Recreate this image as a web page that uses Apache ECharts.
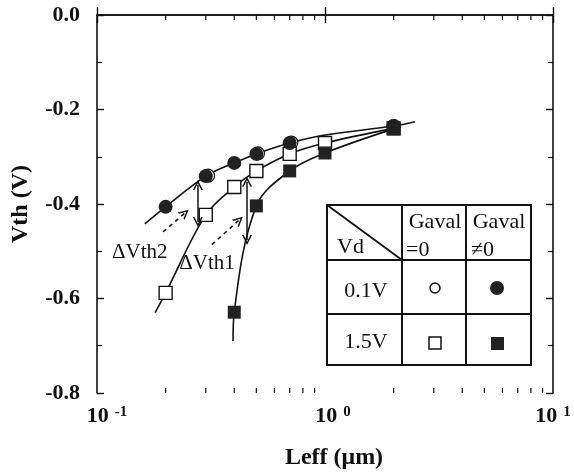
<!DOCTYPE html>
<html>
<head>
<meta charset="utf-8">
<script src="https://cdn.jsdelivr.net/npm/echarts@6/dist/echarts.min.js"></script>
<style>html,body{margin:0;padding:0;background:#fff}#c{width:574px;height:475px}</style>
</head>
<body>
<div id="c"></div>
<script>
// ---- data ----
const xTicksMinor = [0.2,0.3,0.4,0.5,0.6,0.7,0.8,0.9,2,3,4,5,6,7,8,9];

const filledCircleX = [0.2, 0.3, 0.4, 0.5, 0.7, 2.0];
const filledCircleY = [-0.406, -0.341, -0.313, -0.294, -0.271, -0.235];

const openCircleX = [0.307, 0.508, 0.712, 2.0];
const openCircleY = [-0.340, -0.293, -0.270, -0.235];

const openSquareX = [0.2, 0.3, 0.4, 0.5, 0.7, 1.0, 2.0];
const openSquareY = [-0.588, -0.423, -0.364, -0.330, -0.294, -0.271, -0.240];

const filledSquareX = [0.4, 0.5, 0.7, 1.0, 2.0];
const filledSquareY = [-0.629, -0.404, -0.330, -0.292, -0.241];

// fitted curves
const curve1X = [0.162, 0.2, 0.3, 0.4, 0.5, 0.7, 1.0, 2.0, 2.48];
const curve1Y = [-0.442, -0.406, -0.341, -0.313, -0.294, -0.271, -0.254, -0.235, -0.226];
const curve2X = [0.18, 0.2, 0.3, 0.4, 0.5, 0.7, 1.0, 2.0];
const curve2Y = [-0.63, -0.588, -0.423, -0.364, -0.330, -0.294, -0.271, -0.240];
const curve3X = [0.395, 0.4, 0.5, 0.7, 1.0, 2.0];
const curve3Y = [-0.69, -0.629, -0.404, -0.330, -0.292, -0.241];

// annotations (data units)
const dVth2Arrow = [[0.277, -0.36], [0.277, -0.438]];
const dVth1Arrow = [[0.455, -0.353], [0.455, -0.476]];
const dVth2Dash = [[0.195, -0.459], [0.243, -0.419]];
const dVth1Dash = [[0.319, -0.486], [0.420, -0.434]];
const annoLabels = [['ΔVth2', 0.154, -0.502], ['ΔVth1', 0.304, -0.525]];

const yTickFormat = v => v.toFixed(1);

// ---- chart ----
const zip = (xs, ys) => xs.map((x, i) => [x, ys[i]]);
const INK = '#111';
const SERIF = "'Liberation Serif','Times New Roman',serif";
const CHEVRON = 'path://M5,0 L10,12 L8.4,12 L5,3.8 L1.6,12 L0,12 Z';

const chart = echarts.init(document.getElementById('c'), null, {renderer: 'canvas'});

const axisLine = {show: true, lineStyle: {color: INK, width: 1.6}};
const xTick = {show: true, inside: true, length: 8, lineStyle: {color: INK, width: 1.4}};

const base = {fontSize: 22, fontWeight: 'bold', fontFamily: SERIF, color: INK, lineHeight: 22, verticalAlign: 'bottom'};
const expStyles = {
  a_m1: Object.assign({}, base, {padding: [7, 0, 0, 20]}),
  a_0: Object.assign({}, base, {padding: [7, 0, 0, 16]}),
  a_1: Object.assign({}, base, {padding: [7, 0, 0, 0]}),
  b: {fontSize: 15, fontWeight: 'bold', fontFamily: SERIF, color: INK, lineHeight: 16, padding: [0, 0, 0, 6], verticalAlign: 'top'}
};

const option = {
  backgroundColor: '#fff',
  animation: false,
  grid: {left: 97, right: 21, top: 15, bottom: 82, containLabel: false},
  xAxis: [
    {
      type: 'log', logBase: 10, min: 0.1, max: 10, position: 'bottom',
      axisLine, axisTick: xTick, splitLine: {show: false}, minorTick: {show: false},
      axisLabel: {
        margin: 12,
        formatter: v => {
          const e = Math.round(Math.log10(v));
          const key = e < 0 ? 'a_m1' : (e === 0 ? 'a_0' : 'a_1');
          return '{' + key + '|10}{b|' + e + '}';
        },
        rich: expStyles
      },
      name: 'Leff (μm)', nameLocation: 'middle', nameGap: 53,
      nameTextStyle: {fontSize: 24, fontWeight: 'bold', fontFamily: SERIF, color: INK, padding: [0, 0, 0, 18]}
    },
    {
      type: 'log', logBase: 10, min: 0.1, max: 10, position: 'top',
      axisLine, axisTick: xTick, axisLabel: {show: false}, splitLine: {show: false}
    }
  ],
  yAxis: [
    {
      type: 'value', min: -0.8, max: 0, interval: 0.2, position: 'left',
      axisLine, axisTick: {show: true, inside: true, length: 7, lineStyle: {color: INK, width: 1.4}},
      minorTick: {show: true, splitNumber: 2, length: 5, lineStyle: {color: INK, width: 1.2}},
      splitLine: {show: false},
      axisLabel: {margin: 17, formatter: yTickFormat, fontSize: 22, fontWeight: 'bold', fontFamily: SERIF, color: INK},
      name: 'Vth (V)', nameLocation: 'middle', nameGap: 64,
      nameTextStyle: {fontSize: 24, fontWeight: 'bold', fontFamily: SERIF, color: INK}
    },
    {
      type: 'value', min: -0.8, max: 0, interval: 0.2, position: 'right',
      axisLine, axisTick: {show: true, inside: true, length: 7, lineStyle: {color: INK, width: 1.4}},
      minorTick: {show: true, splitNumber: 2, length: 5, lineStyle: {color: INK, width: 1.2}},
      splitLine: {show: false}, axisLabel: {show: false}
    }
  ],
  series: [
    {type: 'line', data: zip(curve1X, curve1Y), smooth: 0.35, showSymbol: false, symbol: 'none',
     lineStyle: {color: INK, width: 1.6}, z: 2, silent: true},
    {type: 'line', data: zip(curve2X, curve2Y), smooth: 0.35, showSymbol: false, symbol: 'none',
     lineStyle: {color: INK, width: 1.6}, z: 2, silent: true},
    {type: 'line', data: zip(curve3X, curve3Y), smooth: 0.35, showSymbol: false, symbol: 'none',
     lineStyle: {color: INK, width: 1.6}, z: 2, silent: true},
    {type: 'scatter', data: zip(openCircleX, openCircleY), symbol: 'circle', symbolSize: 13,
     itemStyle: {color: '#fff', borderColor: INK, borderWidth: 1.2, opacity: 1}, z: 3},
    {type: 'scatter', data: zip(openSquareX, openSquareY), symbol: 'rect', symbolSize: 13,
     itemStyle: {color: '#fff', borderColor: INK, borderWidth: 1.4, opacity: 1}, z: 4},
    {type: 'scatter', data: zip(filledSquareX, filledSquareY), symbol: 'rect', symbolSize: 13,
     itemStyle: {color: '#222', opacity: 1}, z: 5},
    {type: 'scatter', data: zip(filledCircleX, filledCircleY), symbol: 'circle', symbolSize: 14,
     itemStyle: {color: '#222', opacity: 1}, z: 6},
    {
      type: 'line', data: [], silent: true, z: 7,
      markLine: {
        silent: true, animation: false, symbol: [CHEVRON, CHEVRON], symbolSize: 10,
        label: {show: false}, lineStyle: {color: INK, width: 1.5, type: 'solid'},
        data: [
          [{coord: dVth2Arrow[0]}, {coord: dVth2Arrow[1]}],
          [{coord: dVth1Arrow[0]}, {coord: dVth1Arrow[1]}]
        ]
      },
      markPoint: {
        silent: true, animation: false, symbol: 'circle', symbolSize: 1,
        itemStyle: {color: 'rgba(0,0,0,0)'},
        label: {show: true, position: 'inside', formatter: p => p.name, fontSize: 21, fontFamily: SERIF, color: INK},
        data: annoLabels.map(a => ({name: a[0], coord: [a[1], a[2]]}))
      }
    },
    {
      type: 'line', data: [], silent: true, z: 7,
      markLine: {
        silent: true, animation: false, symbol: ['none', CHEVRON], symbolSize: 10,
        label: {show: false}, lineStyle: {color: INK, width: 1.6, type: [4, 4]},
        data: [
          [{coord: dVth2Dash[0]}, {coord: dVth2Dash[1]}],
          [{coord: dVth1Dash[0]}, {coord: dVth1Dash[1]}]
        ]
      }
    },
    {
      type: 'custom', silent: true, z: 8, clip: false,
      data: xTicksMinor.map(v => [v, -0.8]),
      renderItem: (params, api) => {
        const v = api.value(0);
        const b = api.coord([v, -0.8]);
        const t = api.coord([v, 0]);
        const st = {stroke: INK, lineWidth: 1.2};
        return {type: 'group', children: [
          {type: 'line', shape: {x1: b[0], y1: b[1], x2: b[0], y2: b[1] - 5}, style: st},
          {type: 'line', shape: {x1: t[0], y1: t[1], x2: t[0], y2: t[1] + 5}, style: st}
        ]};
      }
    }
  ],
  graphic: [{
    type: 'group', z: 100,
    children: [
      {type: 'rect', shape: {x: 327, y: 205, width: 204, height: 160}, style: {fill: '#fff', stroke: INK, lineWidth: 2}},
      {type: 'line', shape: {x1: 402, y1: 205, x2: 402, y2: 365}, style: {stroke: INK, lineWidth: 2}},
      {type: 'line', shape: {x1: 466, y1: 205, x2: 466, y2: 365}, style: {stroke: INK, lineWidth: 2}},
      {type: 'line', shape: {x1: 327, y1: 260, x2: 531, y2: 260}, style: {stroke: INK, lineWidth: 2}},
      {type: 'line', shape: {x1: 327, y1: 314, x2: 531, y2: 314}, style: {stroke: INK, lineWidth: 2}},
      {type: 'line', shape: {x1: 327, y1: 205, x2: 402, y2: 260}, style: {stroke: INK, lineWidth: 1.8}},
      {type: 'text', x: 435, y: 222, style: {text: 'Gaval', font: "22px " + SERIF, fill: INK, align: 'center', verticalAlign: 'middle'}},
      {type: 'text', x: 406, y: 250, style: {text: '=0', font: "22px " + SERIF, fill: INK, align: 'left', verticalAlign: 'middle'}},
      {type: 'text', x: 499, y: 222, style: {text: 'Gaval', font: "22px " + SERIF, fill: INK, align: 'center', verticalAlign: 'middle'}},
      {type: 'text', x: 471, y: 250, style: {text: '≠0', font: "22px " + SERIF, fill: INK, align: 'left', verticalAlign: 'middle'}},
      {type: 'text', x: 337, y: 247, style: {text: 'Vd', font: "22px " + SERIF, fill: INK, align: 'left', verticalAlign: 'middle'}},
      {type: 'text', x: 366, y: 291, style: {text: '0.1V', font: "22px " + SERIF, fill: INK, align: 'center', verticalAlign: 'middle'}},
      {type: 'text', x: 366, y: 342, style: {text: '1.5V', font: "22px " + SERIF, fill: INK, align: 'center', verticalAlign: 'middle'}},
      {type: 'circle', shape: {cx: 435, cy: 288, r: 5}, style: {fill: '#fff', stroke: INK, lineWidth: 1.5}},
      {type: 'circle', shape: {cx: 497, cy: 288, r: 7}, style: {fill: '#222'}},
      {type: 'rect', shape: {x: 429, y: 337, width: 12, height: 12}, style: {fill: '#fff', stroke: INK, lineWidth: 1.5}},
      {type: 'rect', shape: {x: 491, y: 337, width: 13, height: 13}, style: {fill: '#222'}}
    ]
  }]
};
chart.setOption(option);
</script>
</body>
</html>
